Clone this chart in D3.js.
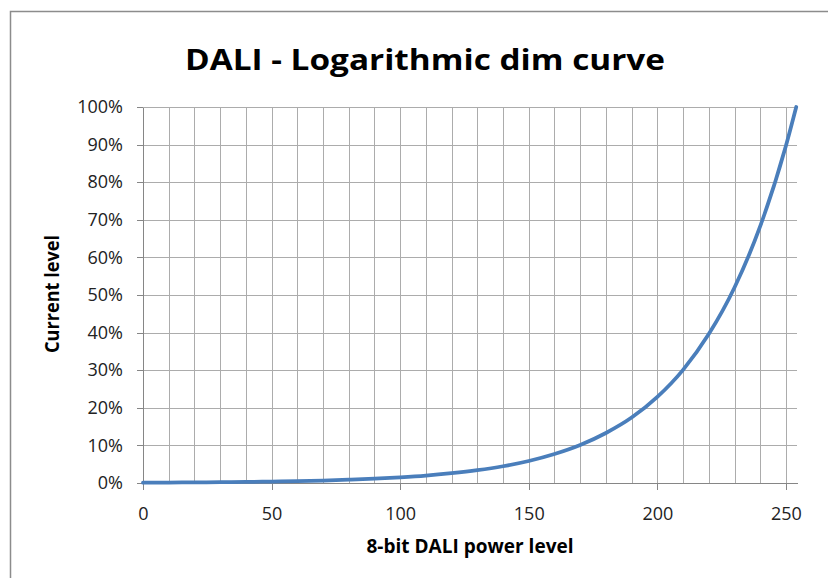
<!DOCTYPE html>
<html>
<head>
    <title>DALI - Logarithmic dim curve</title>
    <script src="https://d3js.org/d3.v7.min.js"></script>
    <style>
        body { margin: 0; background: #fff; }
        .grid line { stroke: #acacac; stroke-width: 1; shape-rendering: crispEdges; }
        .axis path, .axis line { stroke: #868686; shape-rendering: crispEdges; }
        .axis text { font-family: "Open Sans", sans-serif; font-size: 18px; fill: #222; }
    </style>
</head>
<body>
<svg width="828" height="578"></svg>
<script>
    // DALI arc power level (0..254) and the current level, in %
    var levels   = [0, 10, 20, 30, 40, 50, 60, 70, 80, 90, 100, 110, 120, 130, 140,
                    150, 160, 170, 180, 190, 200, 210, 220, 230, 240, 250, 254];
    var currents = [0.1, 0.13, 0.17, 0.22, 0.29, 0.38, 0.5, 0.66, 0.87, 1.14, 1.5, 1.96, 2.6, 3.4, 4.45,
                    5.85, 7.7, 10.1, 13.3, 17.4, 22.9, 30.1, 39.6, 52, 68.3, 89.7, 100];
    var xTicks = [0, 50, 100, 150, 200, 250];
    var yTicks = [0, 10, 20, 30, 40, 50, 60, 70, 80, 90, 100];

    var data = levels.map(function(d, i) { return { n: d, v: currents[i] }; });

    var svg = d3.select("svg");
    var plotL = 143, plotR = 797, plotT = 107, plotB = 483;

    // chart border
    svg.append("rect")
       .attr("x", 10.5).attr("y", 11.5)
       .attr("width", 840).attr("height", 600)
       .attr("fill", "#fff")
       .attr("stroke", "#8c8c8c")
       .attr("stroke-width", 1.5);

    var x = d3.scaleLinear().domain([0, 254.3]).range([plotL, plotR]);
    var y = d3.scaleLinear().domain([0, 100]).range([plotB, plotT]);

    // gridlines: vertical every 10, horizontal every 10%
    var grid = svg.append("g").attr("class", "grid");
    grid.selectAll(".v")
        .data(d3.range(10, 255, 10))
        .enter().append("line")
        .attr("x1", function(d) { return Math.round(x(d)) + 0.5; })
        .attr("x2", function(d) { return Math.round(x(d)) + 0.5; })
        .attr("y1", plotT).attr("y2", plotB);
    grid.selectAll(".h")
        .data(yTicks.slice(1))
        .enter().append("line")
        .attr("x1", plotL).attr("x2", plotR)
        .attr("y1", function(d) { return Math.round(y(d)) + 0.5; })
        .attr("y2", function(d) { return Math.round(y(d)) + 0.5; });

    // axes
    svg.append("g")
       .attr("class", "axis")
       .attr("transform", "translate(0," + plotB + ")")
       .call(d3.axisBottom(x).tickValues(xTicks).tickSize(7).tickPadding(17).tickSizeOuter(0));

    svg.append("g")
       .attr("class", "axis")
       .attr("transform", "translate(" + plotL + ",0)")
       .call(d3.axisLeft(y).tickValues(yTicks).tickSize(6).tickPadding(14).tickSizeOuter(0)
           .tickFormat(function(d) { return d + "%"; }));

    // curve
    var line = d3.line()
        .x(function(d) { return x(d.n); })
        .y(function(d) { return y(d.v); })
        .curve(d3.curveMonotoneX);

    svg.append("path")
       .datum(data)
       .attr("fill", "none")
       .attr("stroke", "#4a7ebb")
       .attr("stroke-width", 3.75)
       .attr("stroke-linecap", "round")
       .attr("d", line);

    // titles
    svg.append("text")
       .attr("x", 425).attr("y", 70)
       .attr("text-anchor", "middle")
       .attr("font-family", "Open Sans, sans-serif")
       .attr("font-weight", "bold")
       .attr("font-size", "28px")
       .attr("textLength", 480)
       .attr("lengthAdjust", "spacingAndGlyphs")
       .text("DALI - Logarithmic dim curve");

    svg.append("text")
       .attr("x", 470).attr("y", 553)
       .attr("text-anchor", "middle")
       .attr("font-family", "Open Sans, sans-serif")
       .attr("font-weight", "bold")
       .attr("font-size", "19px")
       .attr("textLength", 207)
       .attr("lengthAdjust", "spacingAndGlyphs")
       .text("8-bit DALI power level");

    svg.append("text")
       .attr("transform", "translate(59,294) rotate(-90)")
       .attr("text-anchor", "middle")
       .attr("font-family", "Open Sans, sans-serif")
       .attr("font-weight", "bold")
       .attr("font-size", "19px")
       .attr("textLength", 118)
       .attr("lengthAdjust", "spacingAndGlyphs")
       .text("Current level");
</script>
</body>
</html>
